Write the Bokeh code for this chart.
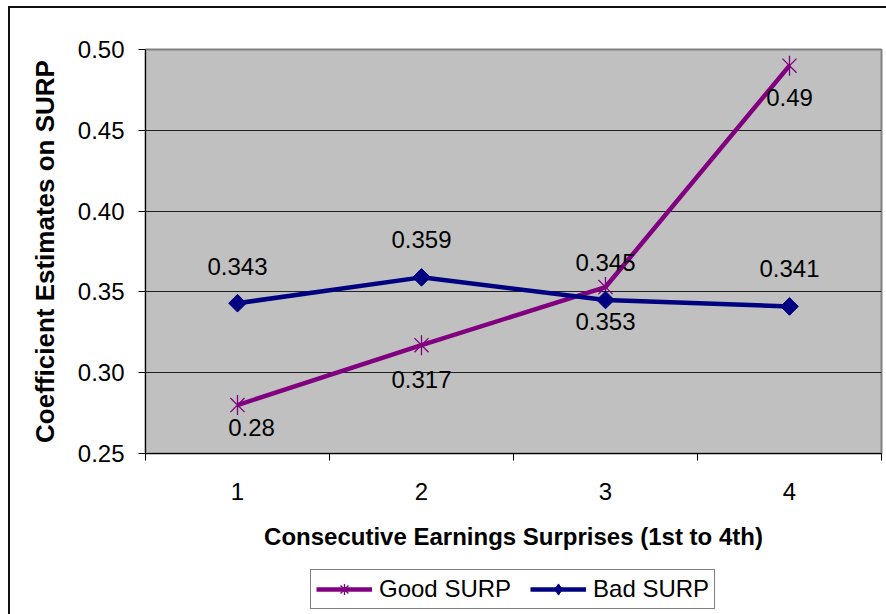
import numpy as np
from bokeh.plotting import figure
from bokeh.layouts import column
from bokeh.models import (ColumnDataSource, FixedTicker, NumeralTickFormatter,
                          Legend, LegendItem, Range1d, InlineStyleSheet)
from bokeh.core.properties import value
from bokeh.embed import file_html
from bokeh.resources import INLINE

# Coefficient estimates on SURP for four consecutive earnings surprises
periods = [1, 2, 3, 4]
period_labels = ["1", "2", "3", "4"]
good_surp = [0.28, 0.317, 0.353, 0.49]
bad_surp = [0.343, 0.359, 0.345, 0.341]
y_ticks = [0.25, 0.30, 0.35, 0.40, 0.45, 0.50]

FONT = "Liberation Sans"
PURPLE = "#800080"
NAVY = "#000080"
FS = "24px"

p = figure(width=886, height=560, output_backend="svg", toolbar_location=None,
           x_range=Range1d(0.5, 4.5), y_range=Range1d(0.25, 0.50),
           min_border_left=145, min_border_right=5, min_border_top=49,
           min_border_bottom=107)

p.background_fill_color = "#C0C0C0"
p.border_fill_color = None
p.outline_line_color = "#808080"
p.outline_line_width = 2

# grid
p.xgrid.visible = False
p.ygrid.ticker = FixedTicker(ticks=y_ticks)
p.ygrid.grid_line_color = "#202020"
p.ygrid.grid_line_width = 1

# y axis
ya = p.yaxis[0]
ya.ticker = FixedTicker(ticks=y_ticks)
ya.formatter = NumeralTickFormatter(format="0.00")
ya.major_tick_out = 7
ya.major_tick_in = 0
ya.minor_tick_out = 0
ya.minor_tick_in = 0
ya.major_tick_line_color = "black"
ya.axis_line_color = "black"
ya.major_label_standoff = 14
ya.major_label_text_font = FONT
ya.major_label_text_font_size = FS
ya.major_label_text_color = "black"
ya.axis_label = "Coefficient Estimates on SURP"
ya.axis_label_text_font = FONT
ya.axis_label_text_font_size = "26px"
ya.axis_label_text_font_style = "bold"
ya.axis_label_text_color = "black"
ya.axis_label_standoff = 15

# x axis: labels at category centres, ticks at category boundaries
xa = p.xaxis[0]
xa.ticker = FixedTicker(ticks=periods,
                        minor_ticks=[0.5, 1.5, 2.5, 3.5, 4.5])
xa.major_label_overrides = {pv: lab for pv, lab in zip(periods, period_labels)}
xa.major_tick_out = 0
xa.major_tick_in = 0
xa.minor_tick_out = 7
xa.minor_tick_in = 0
xa.minor_tick_line_color = "black"
xa.axis_line_color = "black"
xa.major_label_standoff = 22
xa.major_label_text_font = FONT
xa.major_label_text_font_size = FS
xa.major_label_text_color = "black"
xa.axis_label = "Consecutive Earnings Surprises (1st to 4th)"
xa.axis_label_text_font = FONT
xa.axis_label_text_font_size = FS
xa.axis_label_text_font_style = "bold"
xa.axis_label_text_color = "black"
xa.axis_label_standoff = 20

good_src = ColumnDataSource(dict(
    x=periods, y=good_surp, text=[f"{v:g}" for v in good_surp],
    dx=[14, 0, 0, 0], dy=[22, 34, 34, 32]))
bad_src = ColumnDataSource(dict(
    x=periods, y=bad_surp, text=[f"{v:g}" for v in bad_surp],
    dx=[0, 0, 0, 0], dy=[-37, -38, -37, -38]))

# Good SURP: thick purple line with star markers (x plus vertical bar)
p.line("x", "y", source=good_src, line_color=PURPLE, line_width=4.5)
p.scatter("x", "y", source=good_src, marker="x", size=20,
          line_color=PURPLE, line_width=1.3)
p.scatter("x", "y", source=good_src, marker="dash", angle=np.pi / 2,
          size=20, line_color=PURPLE, line_width=1.3)

# Bad SURP: thick navy line with diamond markers
p.line("x", "y", source=bad_src, line_color=NAVY, line_width=4.5)
p.scatter("x", "y", source=bad_src, marker="square", angle=np.pi / 4,
          size=12.5, fill_color=NAVY, line_color=NAVY)

# value labels
for src in (good_src, bad_src):
    p.text("x", "y", text="text", source=src, x_offset="dx", y_offset="dy",
           text_font=value(FONT), text_font_size=FS, text_color="black",
           text_align="center", text_baseline="middle")

# legend strip under the axis title; its key glyphs reuse the series data
# but the view range keeps the series themselves out of sight
lg = figure(width=886, height=54, output_backend="svg", toolbar_location=None,
            x_axis_type=None, y_axis_type=None,
            x_range=Range1d(0.5, 4.5), y_range=Range1d(5, 6),
            min_border_left=0, min_border_right=0, min_border_top=0,
            min_border_bottom=0)
lg.outline_line_color = None
lg.background_fill_color = None
lg.border_fill_color = None
lg.grid.visible = False
g_r = [lg.line("x", "y", source=good_src, line_color=PURPLE, line_width=4.5),
       lg.scatter("x", "y", source=good_src, marker="asterisk",
                  line_color=PURPLE, line_width=1.3)]
b_r = [lg.line("x", "y", source=bad_src, line_color=NAVY, line_width=4.5),
       lg.scatter("x", "y", source=bad_src, marker="diamond",
                  fill_color=NAVY, line_color=NAVY)]

legend = Legend(items=[
    LegendItem(label="Good SURP", renderers=g_r),
    LegendItem(label="Bad SURP", renderers=b_r),
], orientation="horizontal", location=(165, 5))
legend.label_text_font = FONT
legend.label_text_font_size = FS
legend.label_text_color = "black"
legend.glyph_width = 56
legend.glyph_height = 28
legend.label_standoff = 7
legend.spacing = 19
legend.padding = 5
legend.margin = 0
legend.border_line_color = "black"
legend.border_line_width = 1
legend.background_fill_color = "white"
legend.background_fill_alpha = 1
lg.add_layout(legend, "center")

# outer chart border (top and left edges fall inside the page)
layout = column(p, lg, spacing=0)
layout.stylesheets = [InlineStyleSheet(css="""
:host { position: relative; }
:host::after { content: ''; position: absolute; left: 8px; top: 6px;
  width: 878px; height: 608px; border-top: 2px solid #111;
  border-left: 2px solid #111; pointer-events: none; }
""")]

open("out.html", "w").write(file_html(layout, INLINE))
